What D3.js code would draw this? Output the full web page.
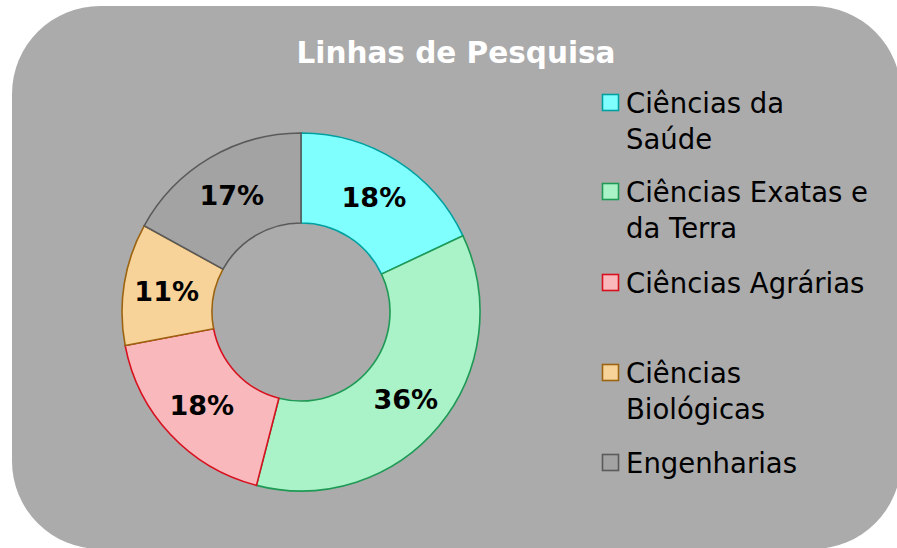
<!DOCTYPE html>
<html>
<head>
<meta charset="utf-8">
<script src="https://cdn.jsdelivr.net/npm/d3@7"></script>
<style>
  html, body { margin: 0; padding: 0; background: #ffffff; }
  svg { display: block; }
</style>
</head>
<body>
<svg id="chart" width="897" height="548"></svg>
<script>
// Research lines – share of projects per area
const categories = ["Ciências da Saúde", "Ciências Exatas e da Terra", "Ciências Agrárias", "Ciências Biológicas", "Engenharias"];
const legendLines = [["Ciências da", "Saúde"], ["Ciências Exatas e", "da Terra"], ["Ciências Agrárias"], ["Ciências", "Biológicas"], ["Engenharias"]];
const values = [18, 36, 18, 11, 17];
const fills = ["#80ffff", "#aaf2c8", "#f8b8bc", "#f7d39a", "#a3a3a3"];
const strokes = ["#00a0a0", "#1e9a55", "#d8101e", "#9c6410", "#5a5a5a"];
const title = "Linhas de Pesquisa";

const FONT = "'DejaVu Sans', sans-serif";
const svg = d3.select("#chart");

// Rounded panel behind the chart
svg.append("rect")
  .attr("x", 12).attr("y", 6)
  .attr("width", 889).attr("height", 543)
  .attr("rx", 88).attr("ry", 88)
  .attr("fill", "#ababab");

svg.append("text")
  .attr("x", 456).attr("y", 63)
  .attr("text-anchor", "middle")
  .attr("font-family", FONT)
  .attr("font-weight", "bold")
  .attr("font-size", 29.5)
  .attr("fill", "#ffffff")
  .text(title);

// Donut
const cx = 301, cy = 312, outerR = 179, innerR = 89;
const pie = d3.pie().sort(null).value(d => d.value);
const data = pie(categories.map((c, i) => ({ name: c, value: values[i], i })));
const arc = d3.arc().innerRadius(innerR).outerRadius(outerR);
const labelArc = d3.arc().innerRadius(136).outerRadius(136);

const g = svg.append("g").attr("transform", `translate(${cx},${cy})`);
g.selectAll("path.slice")
  .data(data)
  .join("path")
  .attr("class", "slice")
  .attr("d", arc)
  .attr("fill", d => fills[d.data.i])
  .attr("stroke", d => strokes[d.data.i])
  .attr("stroke-width", 1.6);

const total = d3.sum(values);
g.selectAll("text.pct")
  .data(data)
  .join("text")
  .attr("class", "pct")
  .attr("transform", d => `translate(${labelArc.centroid(d)})`)
  .attr("text-anchor", "middle")
  .attr("dy", "0.38em")
  .attr("font-family", FONT)
  .attr("font-weight", "bold")
  .attr("font-size", 27)
  .attr("fill", "#000000")
  .text(d => d3.format(".0%")(d.data.value / total));

// Legend
const legendY = [103, 192, 283, 373, 463];
const lineH = 36;
const lg = svg.append("g");
categories.forEach((c, i) => {
  const item = lg.append("g").attr("transform", `translate(602,${legendY[i]})`);
  item.append("rect")
    .attr("x", 0.5).attr("y", -8.5)
    .attr("width", 16).attr("height", 16)
    .attr("fill", fills[i])
    .attr("stroke", strokes[i])
    .attr("stroke-width", 1.6);
  legendLines[i].forEach((line, k) => {
    item.append("text")
      .attr("x", 24).attr("y", k * lineH)
      .attr("dy", "0.36em")
      .attr("font-family", FONT)
      .attr("font-size", 27.5)
      .attr("fill", "#000000")
      .text(line);
  });
});
</script>
</body>
</html>
